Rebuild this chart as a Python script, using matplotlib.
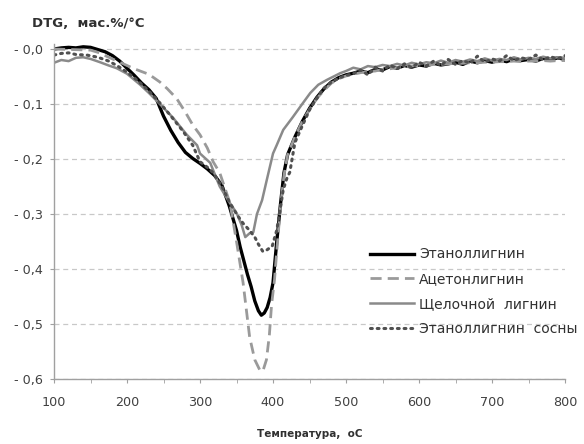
import matplotlib
matplotlib.use("Agg")
import matplotlib.pyplot as plt
from matplotlib.ticker import MultipleLocator, FixedLocator

# x values of the noisy tail, shared by all four curves
tail_x = list(range(510, 801, 10))

# Этаноллигнин
eth_x = [100, 110, 120, 130, 140, 150, 160, 170, 180, 190, 200, 210, 220, 230, 240,
         250, 260, 270, 280, 290, 300, 310, 320, 330, 340, 350, 355, 360, 365, 370,
         375, 380, 384, 388, 392, 396, 400, 405, 410, 415, 420, 430, 440, 450, 460,
         470, 480, 490, 500] + tail_x
eth_y = [0.000, 0.002, 0.003, 0.002, 0.004, 0.003, -0.001, -0.005, -0.012, -0.022,
         -0.035, -0.048, -0.062, -0.074, -0.090, -0.122, -0.148, -0.170, -0.188, -0.199,
         -0.208, -0.218, -0.230, -0.248, -0.285, -0.330, -0.360, -0.385, -0.410, -0.432,
         -0.458, -0.476, -0.484, -0.480, -0.470, -0.452, -0.425, -0.352, -0.285, -0.225,
         -0.192, -0.160, -0.132, -0.108, -0.088, -0.072, -0.060, -0.052, -0.047,
         -0.044, -0.040, -0.043, -0.037, -0.038, -0.032, -0.035, -0.030, -0.033, -0.029,
         -0.031, -0.026, -0.029, -0.027, -0.024, -0.028, -0.022, -0.025, -0.021, -0.024,
         -0.020, -0.023, -0.018, -0.021, -0.019, -0.022, -0.017, -0.020, -0.016, -0.019]

# Ацетонлигнин
ace_x = [100, 150, 160, 180, 200, 210, 230, 245, 255, 268, 280, 290, 300, 310, 318,
         327, 341, 350, 359, 368, 375, 382, 386, 391, 395, 398, 402, 405, 410, 415,
         420, 430, 440, 450, 460, 470, 480, 490, 500] + tail_x
ace_y = [0.000, -0.002, -0.006, -0.018, -0.030, -0.036, -0.046, -0.060, -0.072, -0.090,
         -0.115, -0.138, -0.156, -0.180, -0.205, -0.225, -0.280, -0.350, -0.425, -0.524,
         -0.565, -0.584, -0.586, -0.565, -0.520, -0.465, -0.420, -0.370, -0.290, -0.230,
         -0.192, -0.160, -0.132, -0.110, -0.090, -0.075, -0.062, -0.054, -0.049,
         -0.046, -0.043, -0.041, -0.040, -0.037, -0.036, -0.034, -0.033, -0.031, -0.030,
         -0.030, -0.028, -0.028, -0.027, -0.026, -0.026, -0.025, -0.025, -0.024, -0.024,
         -0.023, -0.023, -0.022, -0.023, -0.022, -0.022, -0.021, -0.022, -0.021, -0.021]

# Щелочной лигнин
alk_x = [100, 110, 120, 130, 140, 150, 163, 175, 186, 200, 218, 230, 245, 263, 282,
         296, 300, 314, 327, 340, 350, 357, 362, 368, 373, 378, 385, 392, 400, 405,
         414, 427, 440, 451, 462, 474, 492, 500] + tail_x
alk_y = [-0.025, -0.020, -0.022, -0.016, -0.015, -0.018, -0.024, -0.030, -0.035, -0.045,
         -0.065, -0.080, -0.100, -0.125, -0.156, -0.175, -0.190, -0.207, -0.250, -0.278,
         -0.298, -0.320, -0.342, -0.335, -0.333, -0.300, -0.275, -0.235, -0.190, -0.175,
         -0.147, -0.124, -0.100, -0.080, -0.065, -0.056, -0.044, -0.040,
         -0.034, -0.037, -0.031, -0.033, -0.029, -0.031, -0.027, -0.030, -0.025, -0.028,
         -0.024, -0.026, -0.021, -0.025, -0.020, -0.023, -0.019, -0.022, -0.017, -0.021,
         -0.018, -0.020, -0.015, -0.019, -0.016, -0.018, -0.014, -0.017, -0.015, -0.016]

# Этаноллигнин сосны
pine_x = [100, 110, 120, 130, 145, 160, 175, 186, 200, 215, 231, 245, 259, 277, 290,
          300, 310, 318, 330, 341, 350, 359, 368, 375, 380, 386, 392, 399, 405, 410,
          414, 419, 423, 430, 440, 451, 460, 469, 480, 492, 500] + tail_x
pine_y = [-0.011, -0.008, -0.007, -0.010, -0.011, -0.015, -0.022, -0.030, -0.042, -0.058,
          -0.078, -0.098, -0.120, -0.150, -0.175, -0.205, -0.215, -0.225, -0.250, -0.280,
          -0.300, -0.317, -0.330, -0.342, -0.355, -0.368, -0.365, -0.358, -0.330, -0.290,
          -0.256, -0.235, -0.224, -0.170, -0.140, -0.108, -0.090, -0.072, -0.060, -0.052,
          -0.048,
          -0.045, -0.038, -0.047, -0.033, -0.040, -0.029, -0.036, -0.027, -0.034, -0.024,
          -0.031, -0.022, -0.030, -0.019, -0.028, -0.021, -0.026, -0.013, -0.024, -0.018,
          -0.022, -0.012, -0.021, -0.016, -0.019, -0.011, -0.020, -0.014, -0.018, -0.012]

labels = ["Этаноллигнин", "Ацетонлигнин", "Щелочной  лигнин", "Этаноллигнин  сосны"]
y_ticks = [0.0, -0.1, -0.2, -0.3, -0.4, -0.5, -0.6]
y_ticklabels = ["- 0,0", "- 0,1", "- 0,2", "- 0,3", "- 0,4", "- 0,5", "- 0,6"]

fig = plt.figure(figsize=(5.84, 4.44), dpi=100)
ax = fig.add_axes([0.0925, 0.1464, 0.875, 0.7556])

ax.plot(eth_x, eth_y, color="black", lw=2.4, label=labels[0])
ax.plot(ace_x, ace_y, color="#9a9a9a", lw=2.0, ls=(0, (4, 2.2)), label=labels[1])
ax.plot(alk_x, alk_y, color="#8a8a8a", lw=1.8, label=labels[2])
ax.plot(pine_x, pine_y, color="#505050", lw=2.2, ls=(0, (0.6, 1.6)),
        dash_capstyle="round", label=labels[3])

ax.set_xlim(100, 800)
ax.set_ylim(-0.6, 0.01)
ax.xaxis.set_major_locator(MultipleLocator(100))
ax.xaxis.set_minor_locator(MultipleLocator(50))
ax.yaxis.set_major_locator(FixedLocator(y_ticks))
ax.set_yticklabels(y_ticklabels)
ax.grid(axis="y", color="#c8c8c8", ls=(0, (4, 3)), lw=0.9)
ax.set_axisbelow(True)

for s in ["top", "right"]:
    ax.spines[s].set_visible(False)
for s in ["left", "bottom"]:
    ax.spines[s].set_color("#a0a0a0")
    ax.spines[s].set_linewidth(1.0)
ax.tick_params(axis="both", which="both", colors="#a0a0a0", labelcolor="#404040",
               labelsize=9.2, length=3)
ax.tick_params(axis="x", which="both", length=3, pad=9)
ax.tick_params(axis="y", pad=5)

fig.text(0.055, 0.946, "DTG,  мас.%/°C", fontsize=9.5, fontweight="bold",
         color="#303030", va="center", ha="left")
fig.text(0.53, 0.022, "Температура,  оС", fontsize=7.5, fontweight="bold",
         color="#303030", va="center", ha="center")

leg = ax.legend(loc="upper left", bbox_to_anchor=(0.618, 0.392), frameon=False,
                fontsize=10, handlelength=3.2, handletextpad=0.36, labelspacing=0.78,
                borderpad=0, borderaxespad=0)
for t in leg.get_texts():
    t.set_color("#303030")

fig.savefig("out.png", dpi=100)
